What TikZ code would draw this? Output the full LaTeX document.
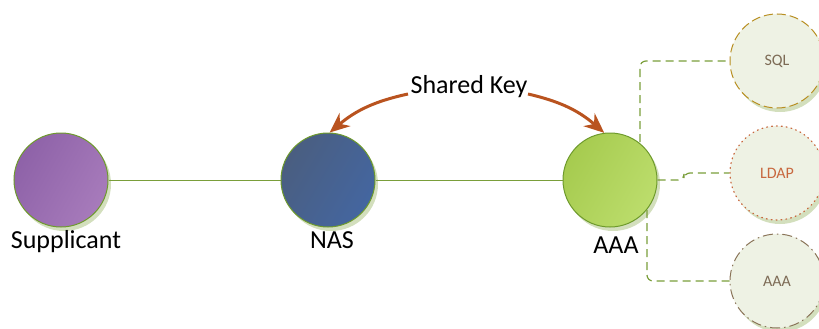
\documentclass[tikz,border=0pt]{standalone}
\usepackage{fontspec}
\setmainfont{Carlito}
\usetikzlibrary{arrows.meta}
\definecolor{edgegreen}{HTML}{6E9A2C}
\definecolor{linkgreen}{HTML}{7A9E3A}
\definecolor{shadowgreen}{HTML}{D3DFBD}
\definecolor{palefill}{HTML}{EEF2E4}
\definecolor{keyorange}{HTML}{B9531F}
\definecolor{sqlcol}{HTML}{B88F22}
\definecolor{ldapcol}{HTML}{C8683E}
\definecolor{aaacol}{HTML}{8A7458}
\definecolor{labelgray}{HTML}{7D6B55}
\definecolor{supA}{HTML}{8E62A8}
\definecolor{supB}{HTML}{A77BBB}
\definecolor{nasA}{HTML}{4A5E80}
\definecolor{nasB}{HTML}{4466A0}
\definecolor{aaaA}{HTML}{A6CB4F}
\definecolor{aaaB}{HTML}{BCDD6C}
\tikzset{
  hub/.style={circle, minimum size=94pt, inner sep=0pt, draw=edgegreen, line width=1pt},
  hubshadow/.style={circle, minimum size=94pt, inner sep=0pt, fill=shadowgreen},
  store/.style={circle, minimum size=94pt, inner sep=0pt, fill=palefill, line width=1pt, font=\fontsize{16}{18}\selectfont},
  caption/.style={font=\fontsize{26}{30}\selectfont, text=black, anchor=base, inner sep=0pt},
  link/.style={draw=linkgreen, line width=1pt},
  dlink/.style={draw=linkgreen, line width=1.2pt, dash pattern=on 8pt off 5pt, rounded corners=6pt},
  keyarrow/.style={draw=keyorange, line width=3pt, -{Stealth[length=20pt,width=17pt]}}
}
\begin{document}
\begin{tikzpicture}[x=1pt,y=-1pt]
\useasboundingbox (0,0) rectangle (819,329);
% shadows
\foreach \p in {(64,184),(331,184),(613,184),(780,65),(780,177),(780,285)}
  \node[hubshadow] at \p {};
% main hubs
\node[hub, shading=axis, left color=supA, right color=supB, shading angle=60] (sup) at (61,180) {};
\node[hub, shading=axis, left color=nasA, right color=nasB, shading angle=60] (nas) at (328,180) {};
\node[hub, shading=axis, left color=aaaA, right color=aaaB, shading angle=60] (aaa) at (610,180) {};
% labels
\node[caption] (supl) at (66,248) {Supplicant};
\node[caption] (nasl) at (332,248) {NAS};
\node[caption] (aaal) at (616,253) {AAA};
% back-end stores
\node[store, draw=sqlcol, dash pattern=on 9pt off 4pt, text=labelgray] (sql) at (777,61) {SQL};
\node[store, draw=ldapcol, line width=1.2pt, dash pattern=on 0.9pt off 4pt, line cap=round, text=ldapcol] (ldap) at (777,173) {LDAP};
\node[store, draw=aaacol, dash pattern=on 10pt off 4pt on 1.5pt off 4pt, text=labelgray] (aaa2) at (777,281) {AAA};
% solid links
\draw[link] (sup) -- (nas);
\draw[link] (nas) -- (aaa);
% dashed links to stores
\coordinate (t1) at (640,142);
\coordinate (b1) at (647,210);
\path[dlink] (t1) -- (640,61) -- (sql.west);
\path[dlink] (aaa.east) -- (684,180) -- (684,173) -- (ldap.west);
\path[dlink] (b1) -- (647,281) -- (aaa2.west);
% shared key
\node[caption] (key) at (469,93) {Shared Key};
\coordinate (kl) at (408,94);
\coordinate (kr) at (528,94);
\draw[keyarrow] (kl) to[bend right=14] (nas.88);
\draw[keyarrow] (kr) to[bend left=14] (aaa.97);
\end{tikzpicture}
\end{document}
